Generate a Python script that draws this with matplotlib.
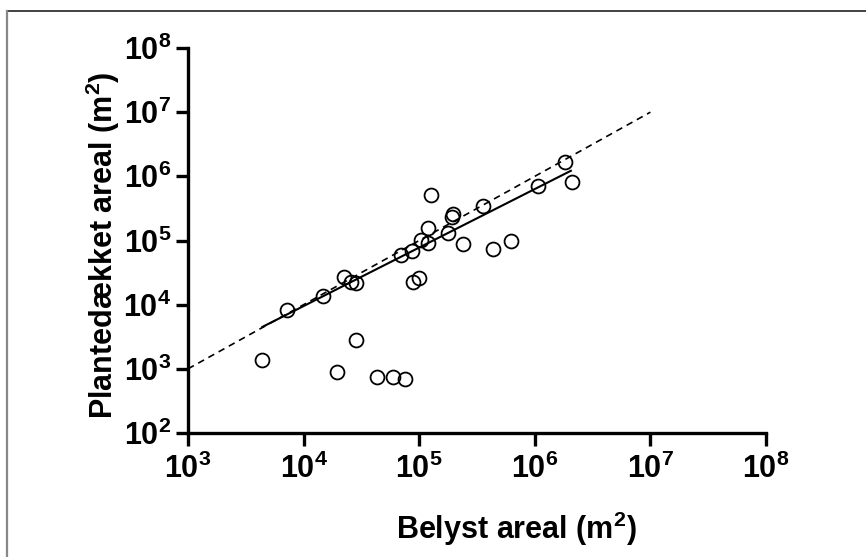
import matplotlib
matplotlib.use("Agg")
import matplotlib.pyplot as plt
import matplotlib.ticker as mticker
from matplotlib.lines import Line2D
import numpy as np

plt.rcParams['font.family'] = ['Liberation Sans', 'DejaVu Sans']
plt.rcParams['mathtext.fontset'] = 'custom'
plt.rcParams['mathtext.rm'] = 'Liberation Sans:bold'
plt.rcParams['mathtext.bf'] = 'Liberation Sans:bold'
plt.rcParams['mathtext.it'] = 'Liberation Sans:bold'

# Data: lit area (x) vs vegetated area (y), m^2
belyst = [1.26e5, 1.97e5, 1.91e5, 1.20e5, 1.04e5, 1.20e5, 1.76e5, 2.37e5, 6.9e4, 8.7e4,
          8.9e4, 1.0e5, 2.25e4, 2.55e4, 2.82e4, 1.46e4, 7.2e3, 4.4e3, 2.82e4, 1.93e4,
          4.28e4, 5.97e4, 7.6e4, 1.82e6, 2.08e6, 1.07e6, 3.54e5, 4.37e5, 6.2e5]
plantedaekket = [5.1e5, 2.6e5, 2.3e5, 1.55e5, 1.02e5, 9.0e4, 1.3e5, 8.8e4, 5.9e4, 6.9e4,
                 2.28e4, 2.57e4, 2.73e4, 2.28e4, 2.2e4, 1.36e4, 8.3e3, 1.37e3, 2.8e3, 9.0e2,
                 7.4e2, 7.5e2, 6.9e2, 1.65e6, 8.1e5, 7.15e5, 3.44e5, 7.3e4, 9.9e4]

# 1:1 reference line and fitted regression line endpoints
line11_x = [1e3, 1e7]
line11_y = [1e3, 1e7]
fit_x = [4.4e3, 2.05e6]
fit_y = [4.5e3, 1.22e6]

xticks = [1e3, 1e4, 1e5, 1e6, 1e7, 1e8]
yticks = [1e2, 1e3, 1e4, 1e5, 1e6, 1e7, 1e8]

fig = plt.figure(figsize=(8.66, 5.57), dpi=100)
ax = fig.add_axes([188/866, 1 - 433/557, 578/866, 385/557])

ax.plot(line11_x, line11_y, ls=(0, (4, 3)), color='black', lw=1.2, zorder=2)
ax.plot(fit_x, fit_y, ls='-', color='black', lw=1.5, zorder=2)
ax.plot(belyst, plantedaekket, ls='none', marker='o', markersize=10,
        markerfacecolor='none', markeredgecolor='black', markeredgewidth=1.3, zorder=3)

ax.set_xscale('log')
ax.set_yscale('log')
ax.set_xlim(1e3, 1e8)
ax.set_ylim(1e2, 1e8)
ax.set_xticks(xticks)
ax.set_yticks(yticks)
ax.xaxis.set_minor_locator(mticker.NullLocator())
ax.yaxis.set_minor_locator(mticker.NullLocator())

def fmt(v, pos):
    return r'$\mathbf{10^{%d}}$' % int(round(np.log10(v)))

ax.xaxis.set_major_formatter(mticker.FuncFormatter(fmt))
ax.yaxis.set_major_formatter(mticker.FuncFormatter(fmt))

for s in ['top', 'right']:
    ax.spines[s].set_visible(False)
for s in ['left', 'bottom']:
    ax.spines[s].set_linewidth(2.4)
ax.tick_params(axis='both', which='major', width=2.4, length=9, labelsize=22, direction='out')
ax.tick_params(axis='x', pad=6)
ax.tick_params(axis='y', pad=3)

ax.set_xlabel('Belyst areal (m$^{2}$)', fontsize=22, fontweight='bold')
ax.xaxis.set_label_coords((516 - 188) / 578, -0.2)
ax.set_ylabel('Plantedækket areal (m$^{2}$)', fontsize=22, fontweight='bold')
ax.yaxis.set_label_coords(-0.114, 0.488)

# figure border
fig.add_artist(Line2D([6.5/866, 1.0], [1 - 11/557, 1 - 11/557], transform=fig.transFigure,
                      color='#333333', lw=1.3))
fig.add_artist(Line2D([6.5/866, 6.5/866], [0.0, 1 - 11/557], transform=fig.transFigure,
                      color='#888888', lw=1.6))

fig.savefig('out.png', dpi=100)
